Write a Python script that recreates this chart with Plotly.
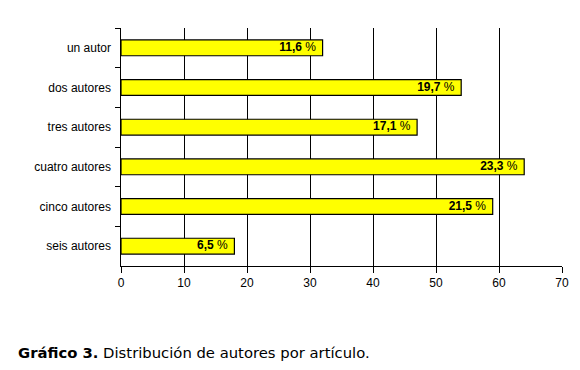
import plotly.graph_objects as go

categories = ["un autor", "dos autores", "tres autores", "cuatro autores", "cinco autores", "seis autores"]
counts = [32, 54, 47, 64, 59, 18]
percent_labels = ["11,6", "19,7", "17,1", "23,3", "21,5", "6,5"]
x_ticks = [0, 10, 20, 30, 40, 50, 60, 70]

fig = go.Figure()
fig.add_trace(go.Bar(
    y=categories,
    x=counts,
    orientation="h",
    marker=dict(color="#FFFF00", line=dict(color="#000000", width=1.2)),
    width=0.4,
    hoverinfo="x+y",
))
fig.add_trace(go.Scatter(
    y=categories,
    x=counts,
    mode="text",
    text=[f"<b>{p}</b> %  " for p in percent_labels],
    textposition="middle left",
    textfont=dict(family="Liberation Sans, Arial", size=12, color="#000000"),
    cliponaxis=False,
    hoverinfo="skip",
))

fig.update_layout(
    width=580, height=370,
    margin=dict(l=121, r=18, t=28, b=104),
    paper_bgcolor="white", plot_bgcolor="white",
    showlegend=False,
    font=dict(family="Liberation Sans, Arial", size=12, color="#000000"),
    xaxis=dict(
        range=[0, 70], tickvals=x_ticks, ticktext=[str(v) for v in x_ticks],
        showgrid=True, gridcolor="#000000", gridwidth=1,
        showline=True, linecolor="#000000", linewidth=1,
        ticks="outside", ticklen=6, tickcolor="#000000",
        zeroline=False, tickfont=dict(size=12),
    ),
    yaxis=dict(
        autorange="reversed", type="category",
        showline=True, linecolor="#000000", linewidth=1,
        ticks="outside", ticklen=5, tickcolor="#000000", tickson="boundaries",
        showgrid=False, ticksuffix="  ", tickfont=dict(size=12),
    ),
    annotations=[dict(
        text="<b>Gráfico 3.</b> Distribución de autores por artículo.",
        xref="paper", yref="paper", x=(16 - 121) / 441, y=-86 / 238,
        xanchor="left", yanchor="middle", showarrow=False,
        font=dict(family="DejaVu Sans, Verdana", size=14.8, color="#000000"),
    )],
)

fig.write_html("out.html")
